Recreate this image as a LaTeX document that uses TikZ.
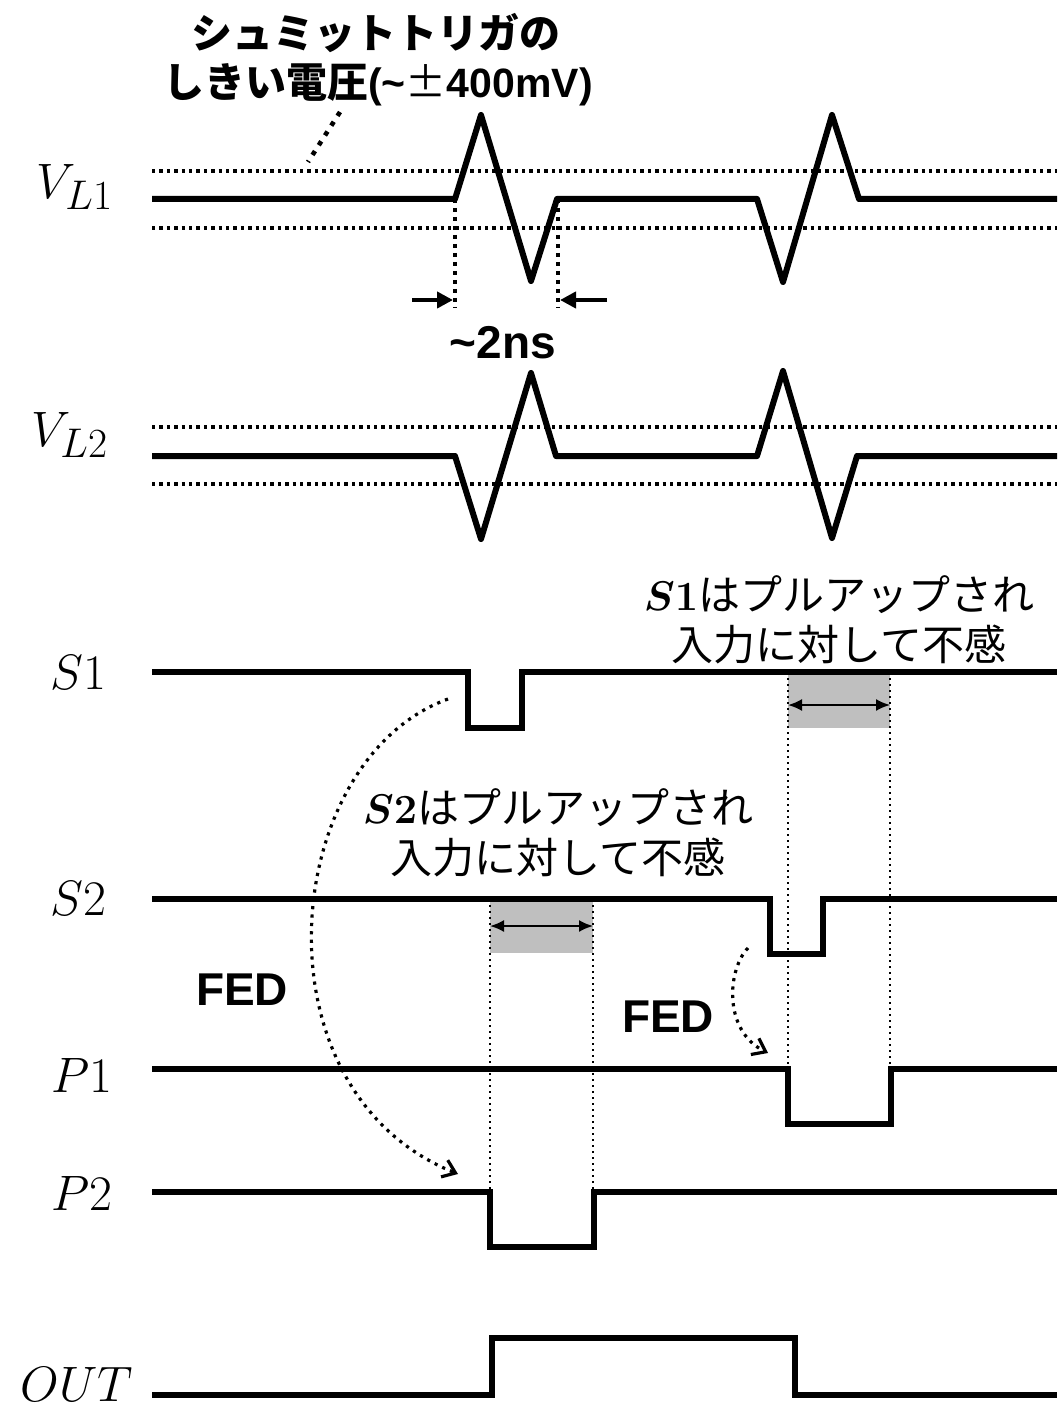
\documentclass[tikz,border=0pt]{standalone}
\usepackage{fontspec}
\newfontfamily\jpfont{Noto Sans CJK JP}
\newfontfamily\arialfont{Liberation Sans}
\usetikzlibrary{arrows.meta, positioning}
\tikzset{
	sig/.style={line width=3pt, line join=miter},
	spike/.style={line width=3pt, line join=round},
	thresh/.style={line width=1.7pt, dash pattern=on 1.7pt off 2pt},
	guide/.style={line width=1.1pt, dash pattern=on 1.1pt off 1.9pt},
	marker/.style={line width=2pt, dash pattern=on 2pt off 2.5pt},
	pointer/.style={line width=2.3pt, dash pattern=on 2.3pt off 3.5pt},
	fed/.style={line width=1.6pt, dash pattern=on 1.6pt off 2.6pt, -{Straight Barb[length=6pt,width=9pt,line width=1.6pt]}},
	span/.style={line width=1pt, {Latex[length=7pt,width=6pt]}-{Latex[length=7pt,width=6pt]}},
	lbl/.style={font=\fontsize{30}{36}\selectfont, inner sep=0pt},
	jp/.style={font=\jpfont\fontsize{21}{25}\selectfont, align=center, inner sep=0pt},
	jpbold/.style={font=\jpfont\bfseries\fontsize{20.5}{26}\selectfont, align=center, inner sep=0pt},
	tag/.style={font=\arialfont\bfseries\fontsize{23}{28}\selectfont, inner sep=0pt},
	dead/.style={fill=black!25, draw=none}
}
\begin{document}
\begin{tikzpicture}[x=0.5pt, y=-0.5pt]
	\fill[white] (0,0) rectangle (1057,1411);
	\useasboundingbox (0,0) rectangle (1057,1411);
	\node at (75,187) (vl1) [lbl]{$V_{L1}$};
	\node at (70,435) (vl2) [lbl]{$V_{L2}$};
	\node at (78,672) (s1) [lbl]{$S1$};
	\node at (78,898) (s2) [lbl]{$S2$};
	\node at (82,1075) (p1) [lbl]{$P1$};
	\node at (82,1193) (p2) [lbl]{$P2$};
	\node at (77,1384) (out) [lbl]{$OUT$};
	\node at (376,33) (thtitle) [jpbold]{シュミットトリガの};
	\node at (378,85) (thvalue) [jpbold]{しきい電圧{\arialfont(\textasciitilde}{\mdseries ±}{\arialfont 400mV)}};
	\node at (503,343) (width) [tag]{\textasciitilde2ns};
	\node at (839,620) (s1note) [jp]{{\boldmath$S1$}はプルアップされ\\入力に対して不感};
	\node at (558,833) (s2note) [jp]{{\boldmath$S2$}はプルアップされ\\入力に対して不感};
	\node at (242,990) (fed1) [tag]{FED};
	\node at (668,1017) (fed2) [tag]{FED};
	\fill[dead] (788,672) rectangle (890,728);
	\fill[dead] (490,899) rectangle (593,953);
	\draw[guide] (788,672) -- (788,1069);
	\draw[guide] (890,672) -- (890,1069);
	\draw[guide] (490,899) -- (490,1192);
	\draw[guide] (593,899) -- (593,1192);
	\draw[span] (788,705) -- (890,705);
	\draw[span] (490,926) -- (593,926);
	\draw[thresh] (152,171) -- (1057,171);
	\draw[thresh] (152,228) -- (1057,228);
	\draw[thresh] (152,427) -- (1057,427);
	\draw[thresh] (152,484) -- (1057,484);
	\draw[pointer] (340,112) -- (308,162);
	\draw[marker] (455,199) -- (455,308);
	\draw[marker] (558,199) -- (558,308);
	\coordinate (wl) at (412,300);
	\coordinate (wlend) at (453,300);
	\coordinate (wr) at (607,300);
	\coordinate (wrend) at (560,300);
	\draw[line width=2pt, -{Triangle[length=8pt,width=8pt]}] (wl) -- (wlend);
	\draw[line width=2pt, -{Triangle[length=8pt,width=8pt]}] (wr) -- (wrend);
	\draw[spike] (152,199) -- (455,199) -- (481,115) -- (531,281) -- (557,199) -- (757,199) -- (783,282) -- (832,115) -- (859,199) -- (1057,199);
	\draw[spike] (152,456) -- (455,456) -- (481,539) -- (531,373) -- (556,456) -- (757,456) -- (783,371) -- (832,538) -- (857,456) -- (1057,456);
	\draw[sig] (152,672) -- (468,672) -- (468,728) -- (522,728) -- (522,672) -- (1057,672);
	\draw[sig] (152,899) -- (770,899) -- (770,954) -- (823,954) -- (823,899) -- (1057,899);
	\draw[sig] (152,1069) -- (788,1069) -- (788,1124) -- (891,1124) -- (891,1069) -- (1057,1069);
	\draw[sig] (152,1192) -- (490,1192) -- (490,1247) -- (594,1247) -- (594,1192) -- (1057,1192);
	\draw[sig] (152,1395) -- (492,1395) -- (492,1338) -- (795,1338) -- (795,1395) -- (1057,1395);
	\coordinate (fedA) at (448,699);
	\coordinate (fedAend) at (458,1174);
	\coordinate (fedB) at (748,948);
	\coordinate (fedBend) at (768,1053);
	\draw[fed] (fedA) .. controls (280,760) and (250,1090) .. (fedAend);
	\draw[fed] (fedB) .. controls (728,968) and (722,1030) .. (fedBend);
\end{tikzpicture}
\end{document}
